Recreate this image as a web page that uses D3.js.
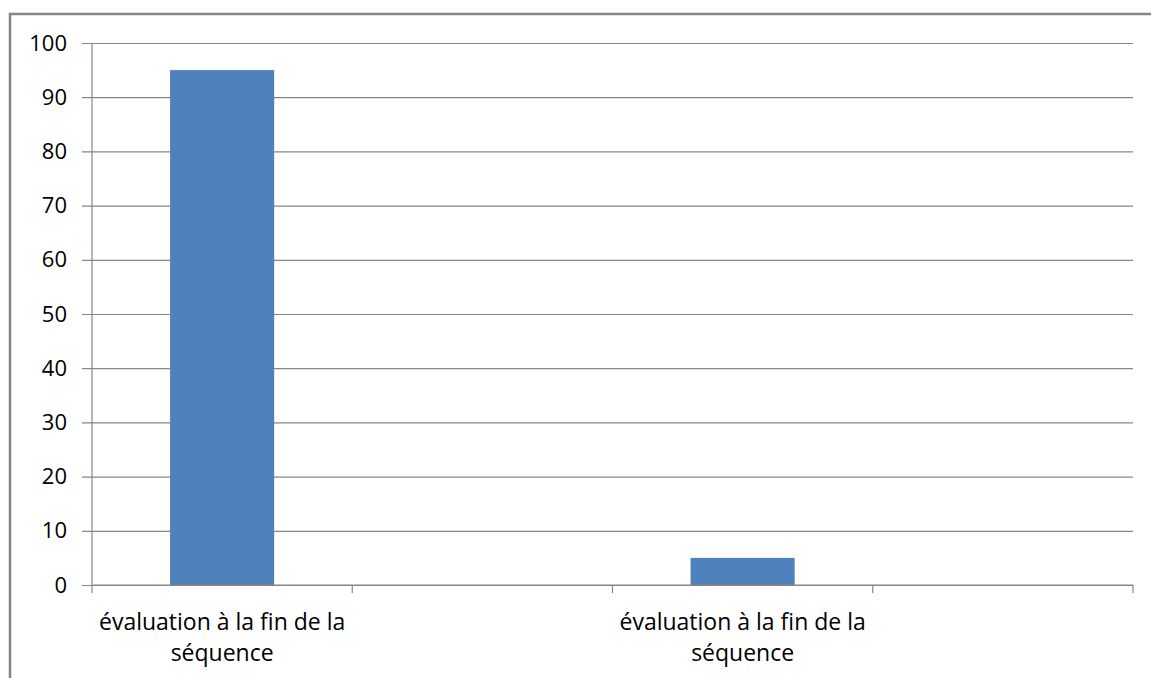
<!DOCTYPE html>
<html lang="fr">
  <head>
    <meta charset="utf-8">
    <title>Évaluation</title>
    <script src="https://d3js.org/d3.v7.min.js"></script>
    <style>
      body { margin: 0; background: #fff; }
      text { font-family: 'Open Sans', 'Liberation Sans', sans-serif; fill: #000; }
    </style>
  </head>
  <body>
    <div id="chart"></div>
    <script>
      // data
      const categories = ['évaluation à la fin de la séquence', '', 'évaluation à la fin de la séquence', ''];
      const values = [95, null, 5, null];
      const yTicks = [0, 10, 20, 30, 40, 50, 60, 70, 80, 90, 100];

      const W = 1151, H = 678;
      const margin = {top: 43, right: 18, bottom: 93, left: 92};

      const svg = d3.select('#chart').append('svg')
        .attr('width', W)
        .attr('height', H);

      // outer frame (runs off the right and bottom edges)
      svg.append('rect')
        .attr('x', 10).attr('y', 14)
        .attr('width', W + 10).attr('height', H + 10)
        .attr('fill', 'none')
        .attr('stroke', '#868686')
        .attr('stroke-width', 2.5);

      const g = svg.append('g')
        .attr('transform', 'translate(' + margin.left + ',' + margin.top + ')');

      const width = W - margin.left - margin.right;   // 1041
      const height = 585 - margin.top;                // 542

      const x = d3.scaleBand()
        .domain(d3.range(categories.length))
        .range([0, width])
        .paddingInner(0.6)
        .paddingOuter(0.3);

      const y = d3.scaleLinear()
        .domain([0, 100])
        .range([height, 0]);

      // gridlines + y axis
      const yAxis = d3.axisLeft(y)
        .tickValues(yTicks)
        .tickSize(-width)
        .tickPadding(25)
        .tickFormat(d3.format('d'));

      g.append('g')
        .call(yAxis)
        .call(s => s.select('.domain').remove())
        .call(s => s.selectAll('.tick line')
          .attr('x1', -10)
          .attr('stroke', '#868686')
          .attr('stroke-width', 1.2))
        .call(s => s.selectAll('.tick text')
          .attr('font-size', 22)
          .style('font-family', "'Open Sans', 'Liberation Sans', sans-serif"));

      // vertical axis line
      g.append('line')
        .attr('x1', 0).attr('x2', 0)
        .attr('y1', 0).attr('y2', height)
        .attr('stroke', '#868686')
        .attr('stroke-width', 1.2);

      // bars
      g.selectAll('rect.bar')
        .data(values.map((v, i) => ({i, v})).filter(d => d.v != null))
        .enter().append('rect')
        .attr('class', 'bar')
        .attr('x', d => x(d.i))
        .attr('y', d => y(d.v))
        .attr('width', x.bandwidth())
        .attr('height', d => height - y(d.v))
        .attr('fill', '#4F81BD');

      // x axis: ticks at slot boundaries
      const step = x.step();
      const x0 = x(0) - x.paddingOuter() * step;
      const boundaries = d3.range(categories.length + 1).map(i => x0 + i * step);

      g.append('line')
        .attr('x1', 0).attr('x2', width)
        .attr('y1', height).attr('y2', height)
        .attr('stroke', '#868686')
        .attr('stroke-width', 1.2);

      g.selectAll('line.xtick')
        .data(boundaries)
        .enter().append('line')
        .attr('class', 'xtick')
        .attr('x1', d => d).attr('x2', d => d)
        .attr('y1', height).attr('y2', height + 8)
        .attr('stroke', '#868686')
        .attr('stroke-width', 1.2);

      // category labels, wrapped on two lines
      const labels = g.selectAll('text.cat')
        .data(categories.map((c, i) => ({c, i})).filter(d => d.c))
        .enter().append('text')
        .attr('class', 'cat')
        .attr('text-anchor', 'middle')
        .attr('font-size', 23)
        .attr('transform', d => 'translate(' + (x(d.i) + x.bandwidth() / 2) + ',' + (height + 45) + ')');

      labels.each(function(d) {
        const words = d.c.split(' ');
        const lines = [words.slice(0, 6).join(' '), words.slice(6).join(' ')];
        d3.select(this).selectAll('tspan')
          .data(lines)
          .enter().append('tspan')
          .attr('x', 0)
          .attr('dy', (l, k) => k === 0 ? 0 : 31)
          .text(l => l);
      });
    </script>
  </body>
</html>
